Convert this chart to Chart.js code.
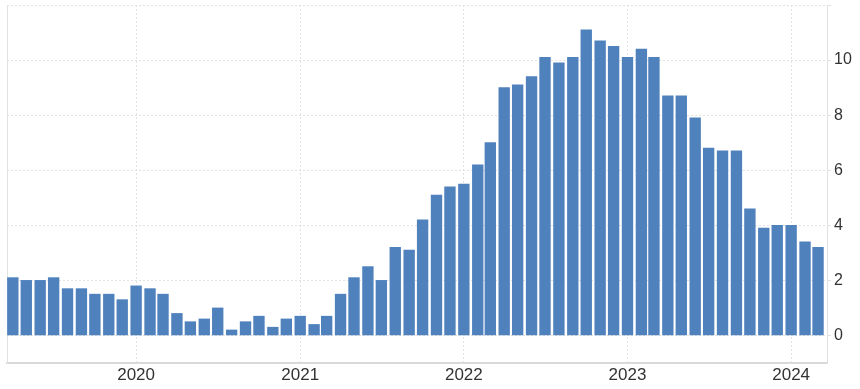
<!DOCTYPE html>
<html><head><meta charset="utf-8">
<script src="https://cdn.jsdelivr.net/npm/chart.js@4.4.1/dist/chart.umd.min.js"></script>
<style>html,body{margin:0;padding:0;background:#fff}#wrap{width:860px;height:389px;position:relative}</style>
</head><body><div id="wrap"><canvas id="c"></canvas></div>
<script>
const months = [
 '2019-04','2019-05','2019-06','2019-07','2019-08','2019-09','2019-10','2019-11','2019-12',
 '2020-01','2020-02','2020-03','2020-04','2020-05','2020-06','2020-07','2020-08','2020-09','2020-10','2020-11','2020-12',
 '2021-01','2021-02','2021-03','2021-04','2021-05','2021-06','2021-07','2021-08','2021-09','2021-10','2021-11','2021-12',
 '2022-01','2022-02','2022-03','2022-04','2022-05','2022-06','2022-07','2022-08','2022-09','2022-10','2022-11','2022-12',
 '2023-01','2023-02','2023-03','2023-04','2023-05','2023-06','2023-07','2023-08','2023-09','2023-10','2023-11','2023-12',
 '2024-01','2024-02','2024-03'
];
const inflation = [
 2.1,2.0,2.0,2.1,1.7,1.7,1.5,1.5,1.3,
 1.8,1.7,1.5,0.8,0.5,0.6,1.0,0.2,0.5,0.7,0.3,0.6,
 0.7,0.4,0.7,1.5,2.1,2.5,2.0,3.2,3.1,4.2,5.1,5.4,
 5.5,6.2,7.0,9.0,9.1,9.4,10.1,9.9,10.1,11.1,10.7,10.5,
 10.1,10.4,10.1,8.7,8.7,7.9,6.8,6.7,6.7,4.6,3.9,4.0,
 4.0,3.4,3.2
];
const yearLabels = ['2020','2021','2022','2023','2024'];
const yTickValues = [0,2,4,6,8,10,12];
const yHiddenLabels = [12];
const rangeStart = '2019-03-19';
const rangeEnd = '2024-03-21';

const dayNum = s => { const p = s.split('-').map(Number); return Date.UTC(p[0], p[1]-1, p[2] || 1) / 864e5; };
const points = months.map((m, i) => ({ x: dayNum(m), y: inflation[i] }));
const yearByDay = {};
yearLabels.forEach(y => { yearByDay[dayNum(y + '-01-01')] = y; });

const gridColor = '#e2e2e2';
const textColor = '#333333';
const font = 'Liberation Sans, Arial, sans-serif';

new Chart(document.getElementById('c'), {
  type: 'bar',
  data: { datasets: [{ data: points, backgroundColor: '#4f81bd', borderWidth: 0, barThickness: 10.7 }] },
  options: {
    responsive: true, maintainAspectRatio: false, animation: false,
    plugins: { legend: { display: false }, tooltip: { enabled: false } },
    layout: { padding: { left: 7, top: 5, right: 0, bottom: 0 } },
    scales: {
      x: {
        type: 'linear', min: dayNum(rangeStart), max: dayNum(rangeEnd), offset: false,
        afterBuildTicks: s => { s.ticks = Object.keys(yearByDay).map(v => ({ value: Number(v) })); },
        afterFit: s => { s.height = 26; s.paddingLeft = 0; s.paddingRight = 0; },
        grid: { color: gridColor, drawTicks: false, offset: false },
        border: { display: true, color: '#d9d9d9', width: 2, dash: [2, 2] },
        ticks: { autoSkip: false, maxRotation: 0, padding: 2, color: textColor, font: { family: font, size: 17 },
                 callback: v => yearByDay[v] || '' }
      },
      y: {
        position: 'right', min: -1, max: 12,
        afterBuildTicks: s => { s.ticks = yTickValues.map(v => ({ value: v })); },
        afterFit: s => { s.width = 33; s.paddingTop = 0; s.paddingBottom = 0; },
        grid: { color: gridColor, tickLength: 4 },
        border: { display: true, color: gridColor, width: 1, dash: [2, 2] },
        ticks: { padding: 3, color: textColor, font: { family: font, size: 16 },
                 callback: v => yHiddenLabels.includes(v) ? '' : String(v) }
      },
      yl: {
        position: 'left', min: -1, max: 12,
        afterFit: s => { s.width = 0; s.paddingTop = 0; s.paddingBottom = 0; },
        grid: { display: false },
        border: { display: true, color: gridColor, width: 1 },
        ticks: { display: false }
      }
    }
  }
});
</script>
</body></html>
